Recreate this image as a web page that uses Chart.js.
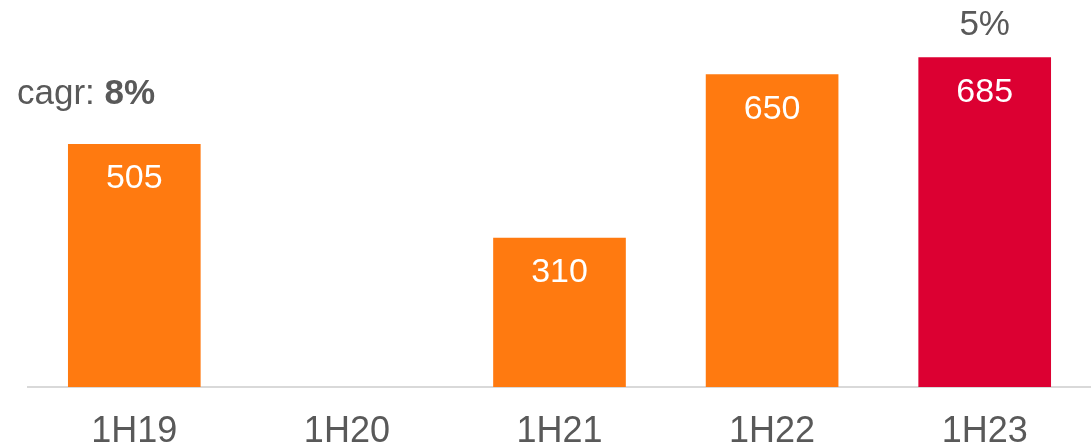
<!DOCTYPE html>
<html>
<head>
<meta charset="utf-8">
<script src="https://cdn.jsdelivr.net/npm/chart.js@4"></script>
<style>
  html, body { margin: 0; padding: 0; background: #fff; }
  #wrap { width: 1091px; height: 448px; position: relative; }
</style>
</head>
<body>
<div id="wrap"><canvas id="myChart"></canvas></div>
<script>
'use strict';

let periods = ['1H19', '1H20', '1H21', '1H22', '1H23'];
let amounts = [505, null, 310, 650, 685];
let barColors = ['#ff7a10', '#ff7a10', '#ff7a10', '#ff7a10', '#dc0032'];
let growthLabel = '5%';
let cagrText = 'cagr: ';
let cagrValue = '8%';

const textGray = '#595959';
const font = '"Liberation Sans", Arial, sans-serif';

// white numbers inside each bar, growth above the last one, cagr note at left
let barText = {
  id: 'barText',
  afterDatasetsDraw(chart) {
    let ctx = chart.ctx;
    let meta = chart.getDatasetMeta(0);
    ctx.save();
    ctx.textAlign = 'center';
    ctx.textBaseline = 'middle';
    meta.data.forEach(function(bar, i) {
      if (amounts[i] === null) {
        return;
      }
      ctx.fillStyle = '#ffffff';
      ctx.font = '34px ' + font;
      ctx.fillText(String(amounts[i]), bar.x, bar.y + 35);
    });
    let last = meta.data[meta.data.length - 1];
    ctx.fillStyle = textGray;
    ctx.font = '35px ' + font;
    ctx.fillText(growthLabel, last.x, last.y - 32);

    ctx.textAlign = 'left';
    ctx.font = '35px ' + font;
    ctx.fillText(cagrText, 17, 94);
    let w = ctx.measureText(cagrText).width;
    ctx.font = 'bold 35px ' + font;
    ctx.fillText(cagrValue, 17 + w, 94);
    ctx.restore();
  }
};

const ctx = document.getElementById('myChart');

new Chart(ctx, {
  type: 'bar',
  data: {
    labels: periods,
    datasets: [{
      data: amounts,
      backgroundColor: barColors,
      borderWidth: 0,
      barPercentage: 0.624,
      categoryPercentage: 1
    }]
  },
  options: {
    responsive: true,
    maintainAspectRatio: false,
    animation: false,
    layout: { padding: { left: 28, right: 0, top: 2, bottom: 0 } },
    plugins: {
      legend: { display: false },
      tooltip: { enabled: false }
    },
    scales: {
      x: {
        grid: { display: false, drawTicks: false },
        border: { display: true, color: '#d9d9d9', width: 2 },
        ticks: {
          color: textGray,
          font: { family: font, size: 36 },
          padding: 23
        },
        afterFit(scale) {
          scale.height = 61;
        }
      },
      y: {
        display: false,
        min: 0,
        max: 800
      }
    }
  },
  plugins: [barText]
});
</script>
</body>
</html>
